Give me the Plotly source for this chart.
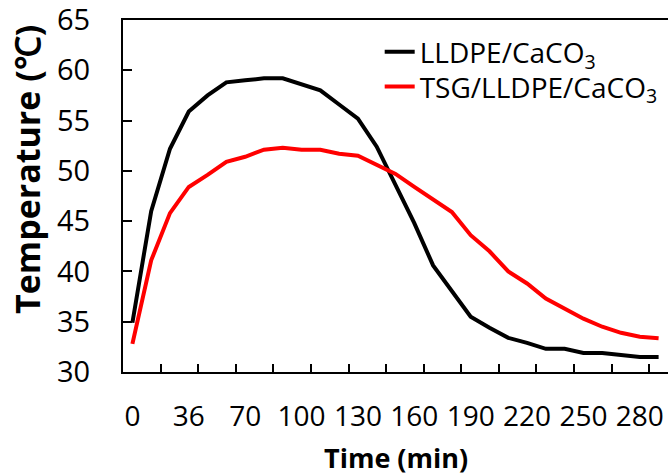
import plotly.graph_objects as go

# Time categories (min); axis is categorical (equal spacing)
times = [0, 12, 24, 36, 47, 58, 70, 80, 90, 100, 110, 120, 130, 140, 150,
         160, 170, 180, 190, 200, 210, 220, 230, 240, 250, 260, 270, 280, 290]

lldpe_caco3 = [34.9, 46.0, 52.2, 55.9, 57.5, 58.8, 59.0, 59.2, 59.2, 58.6,
               58.0, 56.6, 55.2, 52.4, 48.6, 44.8, 40.6, 38.0, 35.5, 34.4,
               33.4, 32.9, 32.3, 32.3, 31.9, 31.9, 31.7, 31.5, 31.5]

tsg_lldpe_caco3 = [32.8, 41.1, 45.8, 48.4, 49.6, 50.9, 51.4, 52.1, 52.3, 52.1,
                   52.1, 51.7, 51.5, 50.6, 49.7, 48.4, 47.2, 45.9, 43.6, 42.0,
                   40.0, 38.8, 37.3, 36.3, 35.3, 34.5, 33.9, 33.5, 33.35]

series_names = ["LLDPE/CaCO<sub>3</sub>", "TSG/LLDPE/CaCO<sub>3</sub>"]
label_every = 3
tick_every = 2

idx = list(range(len(times)))
FONT = "Open Sans"

fig = go.Figure()
fig.add_trace(go.Scatter(x=idx, y=lldpe_caco3, mode="lines", name=series_names[0],
                         line=dict(color="black", width=4), legend="legend"))
fig.add_trace(go.Scatter(x=idx, y=tsg_lldpe_caco3, mode="lines", name=series_names[1],
                         line=dict(color="#ff0000", width=4), legend="legend2"))

leg_common = dict(xanchor="left", yanchor="middle", bgcolor="rgba(0,0,0,0)",
                  font=dict(family=FONT, size=28), itemwidth=30)

fig.update_layout(
    width=668, height=476,
    margin=dict(l=123, r=0, t=20, b=104, autoexpand=False),
    paper_bgcolor="white", plot_bgcolor="white",
    font=dict(family=FONT, size=28, color="black"),
    showlegend=True,
    legend=dict(x=0.471, y=0.909, **leg_common),
    legend2=dict(x=0.471, y=0.810, **leg_common),
    xaxis=dict(
        range=[-0.5, len(times) - 0.5],
        automargin=False,
        tickmode="array",
        tickvals=idx[::label_every],
        ticktext=[str(t) for t in times[::label_every]],
        ticks="", tickangle=0,
        ticklabelstandoff=18,
        ticklabeloverflow="allow",
        tickfont=dict(family=FONT, size=28),
        showline=True, linecolor="black", linewidth=2, mirror=True,
        showgrid=False, zeroline=False,
        minor=dict(tickvals=[i + 1.5 for i in idx[:-1:tick_every]],
                   ticks="inside", ticklen=8, tickwidth=2, tickcolor="black",
                   showgrid=False),
    ),
    yaxis=dict(
        range=[30, 65], dtick=5, tick0=30,
        automargin=False,
        ticks="inside", ticklen=9, tickwidth=2, tickcolor="black",
        ticklabelstandoff=25,
        ticklabeloverflow="allow",
        tickfont=dict(family=FONT, size=29),
        showline=True, linecolor="black", linewidth=2,
        showgrid=False, zeroline=False,
    ),
    annotations=[
        dict(text="<b>Temperature (℃)</b>", textangle=-90,
             xref="paper", yref="paper", x=-0.176, y=0.574,
             xanchor="center", yanchor="middle", showarrow=False,
             font=dict(family=FONT, size=34)),
        dict(text="<b>Time (min)</b>",
             xref="paper", yref="paper", x=0.5, y=-0.243,
             xanchor="center", yanchor="middle", showarrow=False,
             font=dict(family=FONT, size=27)),
    ],
)

fig.write_html("out.html", config={"displayModeBar": False},
               post_script="document.body.style.margin='0';")
